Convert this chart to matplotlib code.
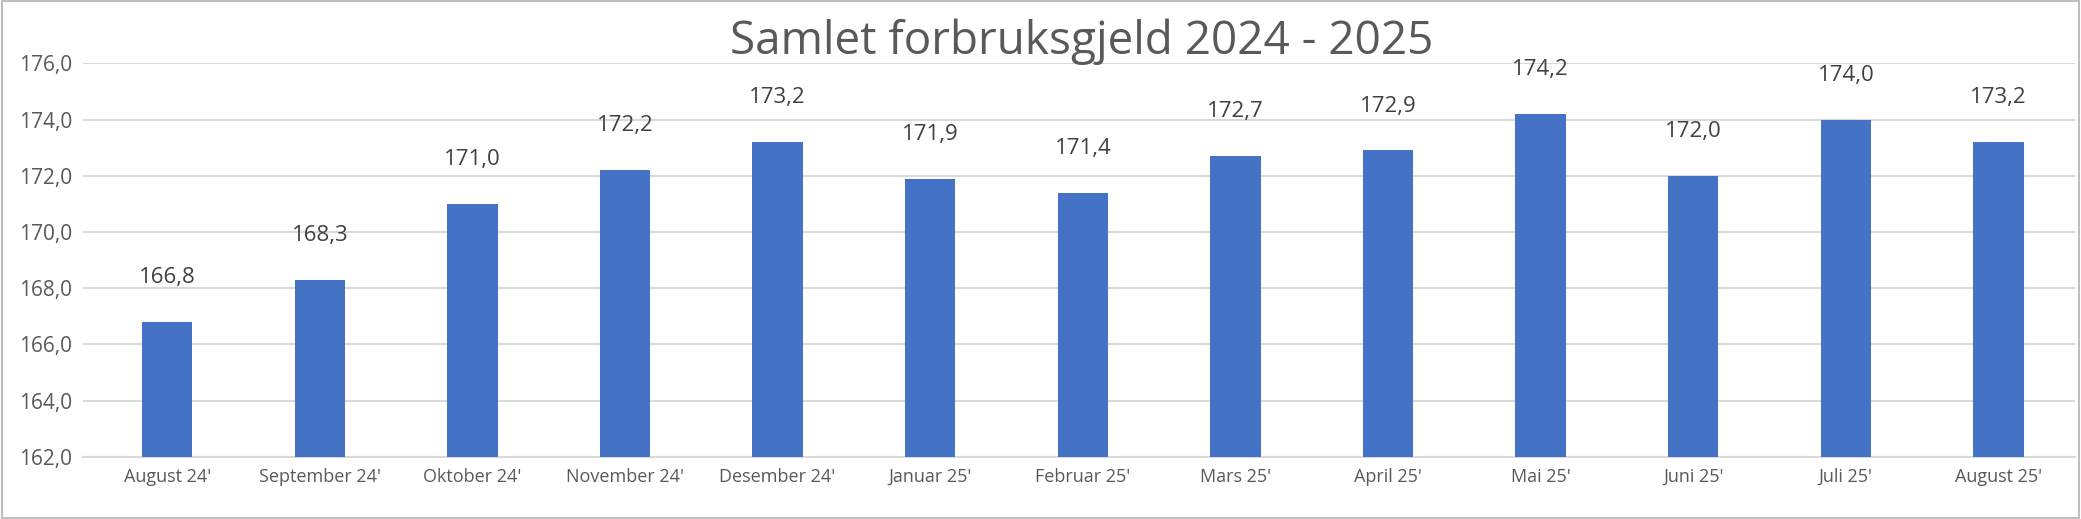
import matplotlib.pyplot as plt
from matplotlib.patches import Rectangle

months = ["August 24'", "September 24'", "Oktober 24'", "November 24'", "Desember 24'",
          "Januar 25'", "Februar 25'", "Mars 25'", "April 25'", "Mai 25'",
          "Juni 25'", "Juli 25'", "August 25'"]
values = [166.8, 168.3, 171.0, 172.2, 173.2, 171.9, 171.4, 172.7, 172.9, 174.2, 172.0, 174.0, 173.2]
yticks = [162, 164, 166, 168, 170, 172, 174, 176]

plt.rcParams['font.family'] = ['Open Sans', 'DejaVu Sans']

fig = plt.figure(figsize=(20.81, 5.19), dpi=100)
ax = fig.add_axes([0.04, 0.12, 0.957, 0.758])
x = range(len(values))
ax.bar(x, values, width=0.33, color='#4472C4', bottom=0, zorder=3)
ax.set_ylim(162, 176)
ax.set_xlim(-0.55, len(values) - 0.5)
ax.set_yticks(yticks)
ax.set_yticklabels([f"{v:.1f}".replace('.', ',') for v in yticks], fontsize=15, color='#595959')
ax.set_xticks(list(x))
ax.set_xticklabels(months, fontsize=13, color='#595959')
ax.tick_params(length=0, pad=8)
ax.grid(axis='y', color='#d9d9d9', linewidth=1.5, zorder=0)
for s in ['top', 'right', 'left']:
    ax.spines[s].set_visible(False)
ax.spines['bottom'].set_color('#d9d9d9')
ax.spines['bottom'].set_linewidth(1.5)
for i, v in enumerate(values):
    ax.text(i, v + 1.2, f"{v:.1f}".replace('.', ','), ha='center', va='bottom',
            fontsize=16, color='#404040')

fig.text(0.52, 0.965, "Samlet forbruksgjeld 2024 - 2025", ha='center', va='top',
         fontsize=33, color='#595959')
fig.patches.append(Rectangle((0.001, 0.002), 0.998, 0.996, transform=fig.transFigure,
                             fill=False, edgecolor='#bfbfbf', linewidth=1.5))
fig.savefig('out.png', dpi=100)
